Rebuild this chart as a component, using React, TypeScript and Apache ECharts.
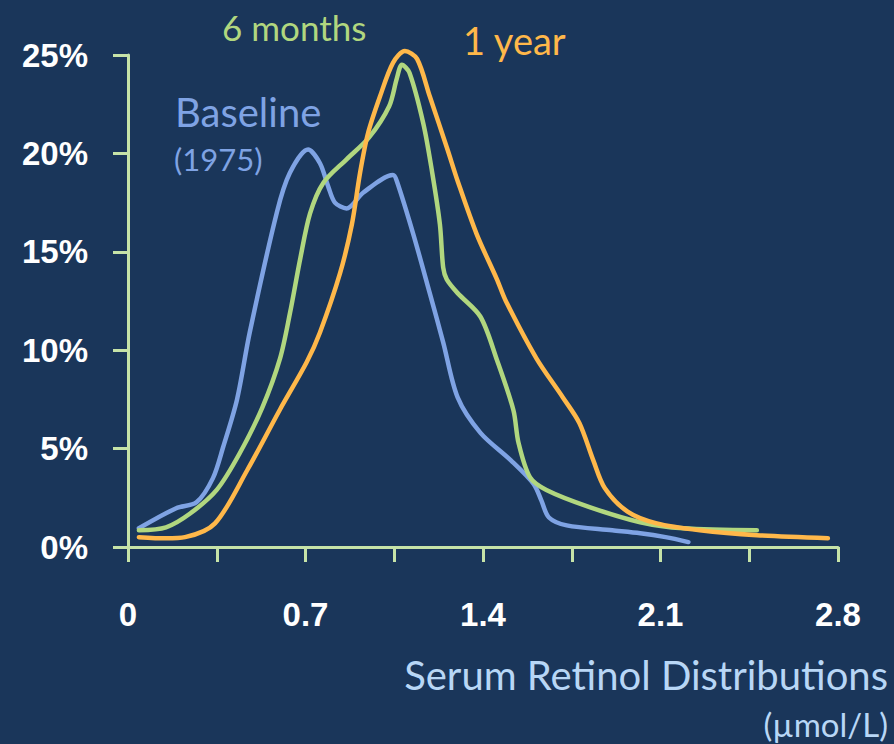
import React, { useEffect, useRef } from "react";
import * as echarts from "echarts";

const xTicks = ["0", "0.7", "1.4", "2.1", "2.8"];
const yTicks = ["0%", "5%", "10%", "15%", "20%", "25%"];

const baseline: [number, number][] = [
  [0.043, 0.95], [0.19, 1.97], [0.27, 2.27], [0.335, 3.5], [0.375, 5.07], [0.43, 7.5],
  [0.48, 10.9], [0.587, 17.0], [0.638, 19.0], [0.71, 20.2], [0.757, 19.5], [0.79, 18.3],
  [0.816, 17.5], [0.862, 17.2], [0.927, 18.0], [1.045, 18.9], [1.06, 18.6], [1.125, 15.9],
  [1.19, 12.9], [1.243, 10.4], [1.3, 7.6], [1.39, 5.8], [1.51, 4.4], [1.6, 3.2],
  [1.63, 2.37], [1.66, 1.5], [1.73, 1.1], [1.91, 0.85], [2.02, 0.7], [2.12, 0.5],
  [2.21, 0.25],
];

const sixMonths: [number, number][] = [
  [0.043, 0.85], [0.15, 1.0], [0.245, 1.7], [0.35, 2.9], [0.44, 4.75], [0.53, 7.1],
  [0.6, 9.6], [0.639, 11.9], [0.68, 14.7], [0.718, 16.95], [0.77, 18.5], [0.862, 19.7],
  [0.95, 20.8], [1.03, 22.4], [1.06, 23.8], [1.08, 24.5], [1.11, 24.1], [1.165, 21.5],
  [1.2, 19.0], [1.23, 16.4], [1.243, 14.2], [1.257, 13.6], [1.3, 12.9], [1.39, 11.7],
  [1.455, 9.5], [1.52, 6.95], [1.54, 5.3], [1.585, 3.55], [1.65, 2.9], [1.82, 2.03],
  [2.02, 1.26], [2.19, 0.95], [2.48, 0.85],
];

const oneYear: [number, number][] = [
  [0.043, 0.5], [0.15, 0.44], [0.225, 0.5], [0.343, 1.2], [0.47, 3.9], [0.6, 7.0],
  [0.705, 9.4], [0.757, 10.9], [0.836, 13.9], [0.883, 16.4], [0.915, 19.0], [0.946, 21.0],
  [0.994, 22.9], [1.045, 24.6], [1.092, 25.2], [1.14, 24.8], [1.19, 22.9], [1.26, 20.2],
  [1.3, 18.6], [1.375, 15.9], [1.455, 13.6], [1.49, 12.5], [1.61, 9.6], [1.715, 7.6],
  [1.78, 6.3], [1.835, 4.4], [1.88, 3.0], [1.97, 1.8], [2.085, 1.2], [2.255, 0.85],
  [2.48, 0.6], [2.76, 0.45],
];

const BG = "#1a365a";
const AXIS = "#c6e3a8";
const BLUE = "#7fa3e4";
const GREEN = "#b1d77f";
const ORANGE = "#ffb84a";
const TITLE = "#b8d7f6";
const SANS = "Lato, 'Open Sans', sans-serif";
const BOLD = "'Liberation Sans', Arial, sans-serif";

export default function App() {
  const ref = useRef<HTMLDivElement>(null);
  useEffect(() => {
    if (!ref.current) return;
    const chart = echarts.init(ref.current, undefined, { renderer: "svg" });
    const lineSeries = (name: string, data: [number, number][], color: string) => ({
      name,
      type: "line",
      data,
      smooth: 0.3,
      clip: false,
      showSymbol: false,
      symbol: "none",
      lineStyle: { color, width: 4.5, cap: "round", join: "round" },
    });
    chart.setOption({
      animation: false,
      backgroundColor: BG,
      grid: { left: 128, right: 56, top: 55, bottom: 197, containLabel: false },
      xAxis: {
        type: "value",
        min: 0,
        max: 2.8,
        interval: 0.35,
        axisLine: { show: true, lineStyle: { color: AXIS, width: 3 } },
        axisTick: { show: true, length: 15, lineStyle: { color: AXIS, width: 3 } },
        splitLine: { show: false },
        axisLabel: {
          color: "#ffffff",
          fontFamily: BOLD,
          fontWeight: "bold",
          fontSize: 33,
          margin: 51,
          formatter: (v: number) => {
            const k = Math.round(v / 0.35);
            return k % 2 === 0 ? xTicks[k / 2] : "";
          },
        },
      },
      yAxis: {
        type: "value",
        min: 0,
        max: 25,
        interval: 5,
        axisLine: { show: true, lineStyle: { color: AXIS, width: 3 } },
        axisTick: { show: true, length: 15, lineStyle: { color: AXIS, width: 3 } },
        splitLine: { show: false },
        axisLabel: {
          color: "#ffffff",
          fontFamily: BOLD,
          fontWeight: "bold",
          fontSize: 33,
          margin: 40,
          formatter: (v: number) => yTicks[Math.round(v / 5)],
        },
      },
      series: [
        lineSeries("Baseline (1975)", baseline, BLUE),
        lineSeries("6 months", sixMonths, GREEN),
        lineSeries("1 year", oneYear, ORANGE),
      ],
      graphic: [
        { type: "text", left: 222, top: 9, style: { text: "6 months", fill: GREEN, font: `35px ${SANS}` } },
        { type: "text", left: 463, top: 21, style: { text: "1 year", fill: ORANGE, font: `38px ${SANS}` } },
        { type: "text", left: 175, top: 92, style: { text: "Baseline", fill: BLUE, font: `40px ${SANS}` } },
        { type: "text", left: 174, top: 143, style: { text: "(1975)", fill: BLUE, font: `31px ${SANS}` } },
        { type: "text", right: 6, top: 655, style: { text: "Serum Retinol Distributions", fill: TITLE, font: `40px ${SANS}` } },
        { type: "text", right: 6, top: 707, style: { text: "(µmol/L)", fill: TITLE, font: `33px ${SANS}` } },
      ],
    });
    return () => chart.dispose();
  }, []);
  return <div ref={ref} style={{ width: 894, height: 744, position: "fixed", left: 0, top: 0 }} />;
}
